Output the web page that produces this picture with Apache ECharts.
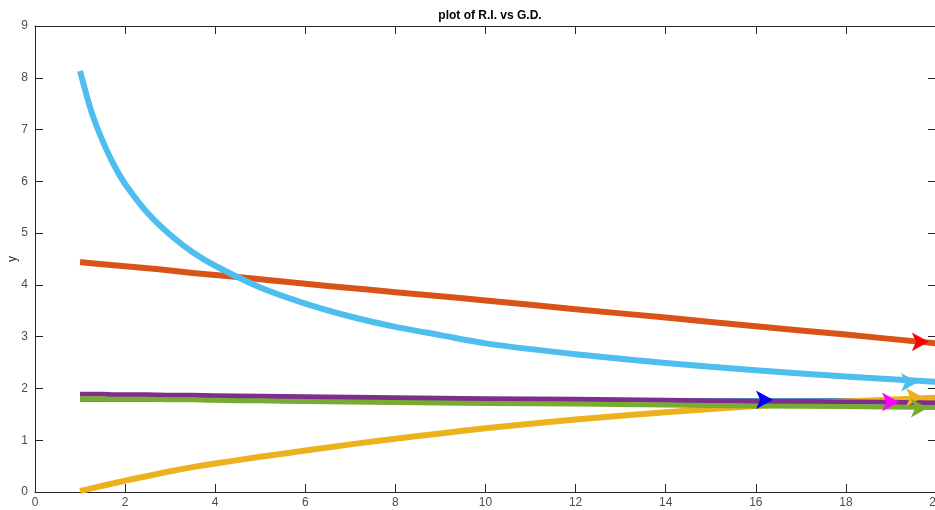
<!DOCTYPE html>
<html>
<head>
<meta charset="utf-8">
<script src="https://cdn.jsdelivr.net/npm/echarts@6/dist/echarts.min.js"></script>
<style>html,body{margin:0;padding:0;background:#fff}#c{width:935px;height:510px}</style>
</head>
<body>
<div id="c"></div>
<script>
// x values sampled along the curves
const xs = [1, 1.25, 1.5, 1.75, 2, 2.5, 3, 3.5, 4, 5, 6, 7, 8, 9, 10, 12, 14, 16, 18, 20];
// series values
const cyanY   = [8.13, 7.35, 6.78, 6.32, 5.95, 5.39, 4.97, 4.63, 4.37, 3.95, 3.64, 3.39, 3.19, 3.03, 2.87, 2.66, 2.49, 2.35, 2.23, 2.13];
const orangeY = [4.44, 4.42, 4.40, 4.38, 4.36, 4.32, 4.28, 4.23, 4.19, 4.11, 4.02, 3.94, 3.86, 3.78, 3.70, 3.53, 3.37, 3.20, 3.04, 2.87];
const yellowY = [0.02, 0.07, 0.12, 0.17, 0.22, 0.31, 0.40, 0.48, 0.55, 0.68, 0.80, 0.92, 1.03, 1.13, 1.23, 1.40, 1.54, 1.66, 1.75, 1.82];
const purpleY = [1.89, 1.89, 1.89, 1.88, 1.88, 1.88, 1.87, 1.87, 1.86, 1.85, 1.84, 1.83, 1.82, 1.81, 1.80, 1.79, 1.77, 1.75, 1.74, 1.72];
const greenY  = [1.80, 1.80, 1.80, 1.79, 1.79, 1.79, 1.78, 1.78, 1.77, 1.76, 1.75, 1.74, 1.73, 1.72, 1.71, 1.70, 1.68, 1.66, 1.65, 1.63];
const blueY   = [1.78, 1.78, 1.78, 1.78, 1.78, 1.78, 1.78, 1.78, 1.78, 1.78, 1.78, 1.78, 1.78, 1.78, 1.78, 1.78, 1.77, 1.77, 1.77, 1.77];
// arrowheads: [x, y] (centre of head)
const arrowBlue    = [16.38, 1.78];
const arrowOrange  = [19.84, 2.90];
const arrowYellow  = [19.71, 1.83];
const arrowPurple  = [19.18, 1.74];
const arrowGreen   = [19.82, 1.62];
const arrowCyan    = [19.60, 2.12];
// axis ticks
const xTicks = [0, 2, 4, 6, 8, 10, 12, 14, 16, 18, 20];
const yTicks = [0, 1, 2, 3, 4, 5, 6, 7, 8, 9];
const titleText = 'plot of R.I. vs G.D.';

const pair = (ys) => xs.map((x, i) => [x, ys[i]]);
const FONT = '"Liberation Sans", Arial, Helvetica, sans-serif';
const AX = '#262626';

function line(name, ys, color, width, z) {
  return { name, type: 'line', data: pair(ys), smooth: 0.25, symbol: 'none', z,
    lineStyle: { color, width, cap: 'butt', join: 'round' }, xAxisIndex: 0, yAxisIndex: 0 };
}
function arrow(name, p, color, z) {
  return { name, type: 'scatter', data: [p], symbol: 'arrow', symbolSize: [14, 17], symbolRotate: -90,
    itemStyle: { color, opacity: 1 }, z, xAxisIndex: 0, yAxisIndex: 0, silent: true };
}

const chart = echarts.init(document.getElementById('c'), null, { renderer: 'canvas' });
const axisCommon = {
  type: 'value', min: xTicks[0], max: xTicks[xTicks.length - 1], interval: 2,
};
chart.setOption({
  animation: false,
  backgroundColor: '#fff',
  title: { text: titleText, left: 485, top: 5, textAlign: 'center',
    textStyle: { fontFamily: FONT, fontSize: 12, fontWeight: 'bold', color: '#000' } },
  grid: { left: 35, top: 26, right: -1, bottom: 18, outerBoundsMode: 'none', containLabel: false },
  xAxis: [
    Object.assign({}, axisCommon, { position: 'bottom',
      axisLine: { show: true, lineStyle: { color: AX, width: 1 } },
      axisTick: { show: true, inside: true, length: 8, lineStyle: { color: AX } },
      axisLabel: { color: '#4d4d4d', fontFamily: FONT, fontSize: 12, margin: 5, showMaxLabel: true, hideOverlap: false },
      splitLine: { show: false } }),
    Object.assign({}, axisCommon, { position: 'top',
      axisLine: { show: true, onZero: false, lineStyle: { color: AX, width: 1 } },
      axisTick: { show: true, inside: true, length: 8, lineStyle: { color: AX } },
      axisLabel: { show: false }, splitLine: { show: false } })
  ],
  yAxis: [
    { type: 'value', min: yTicks[0], max: yTicks[yTicks.length - 1], interval: 1, position: 'left',
      name: 'y', nameLocation: 'middle', nameGap: 16, nameRotate: 90, nameMoveOverlap: false,
      nameTextStyle: { color: '#262626', fontFamily: FONT, fontSize: 12 },
      axisLine: { show: true, lineStyle: { color: AX, width: 1 } },
      axisTick: { show: true, inside: true, length: 8, lineStyle: { color: AX } },
      axisLabel: { color: '#4d4d4d', fontFamily: FONT, fontSize: 12, margin: 7 },
      splitLine: { show: false } },
    { type: 'value', min: yTicks[0], max: yTicks[yTicks.length - 1], interval: 1, position: 'right',
      axisLine: { show: true, onZero: false, lineStyle: { color: AX, width: 1 } },
      axisTick: { show: true, inside: true, length: 8, lineStyle: { color: AX } },
      axisLabel: { show: false }, splitLine: { show: false } }
  ],
  series: [
    line('blue', blueY, '#2a5fa8', 4, 2),
    line('orange', orangeY, '#D95319', 6, 3),
    line('yellow', yellowY, '#EDB120', 6, 4),
    line('purple', purpleY, '#7E2F8E', 5, 5),
    line('green', greenY, '#77AC30', 5, 6),
    line('cyan', cyanY, '#4DBEEE', 6, 7),
    arrow('a-blue', arrowBlue, '#0000FF', 10),
    arrow('a-orange', arrowOrange, '#FF0000', 10),
    arrow('a-yellow', arrowYellow, '#EDB120', 10),
    arrow('a-purple', arrowPurple, '#FF00FF', 10),
    arrow('a-green', arrowGreen, '#77AC30', 10),
    arrow('a-cyan', arrowCyan, '#4DBEEE', 10)
  ]
});
</script>
</body>
</html>
